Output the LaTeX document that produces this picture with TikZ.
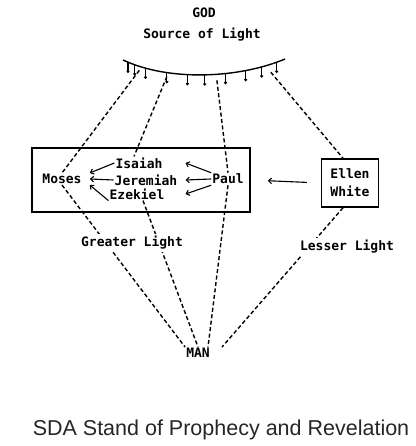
\documentclass[tikz,border=0pt]{standalone}
\usepackage{fontspec}
\setmainfont{Liberation Sans}
\setmonofont{DejaVu Sans Mono}
\usetikzlibrary{arrows.meta}

\begin{document}
\begin{tikzpicture}[x=1pt, y=-1pt, inner sep=1pt, font=\ttfamily\bfseries\fontsize{13}{15}\selectfont]

%STYLE SETTINGS
\tikzstyle{ray}=[line width=1.4pt, dash pattern=on 4pt off 2.5pt]
\tikzstyle{tip}=[line width=1.1pt, -{Straight Barb[length=3pt,width=5.5pt]}]
\tikzstyle{tick}=[line width=1.1pt, -{Straight Barb[length=1.5pt,width=2.5pt]}]
\tikzstyle{frame}=[draw, line width=1.5pt]
\tikzstyle{label}=[fill=white, inner sep=2pt]

\useasboundingbox (0,0) rectangle (415,446);

%SOURCE
\node (god) at (204,13) {GOD};
\node (source) at (202,35) {Source of Light};
\draw[line width=1.4pt] (123,60) .. controls (170,82) and (240,78) .. (285,59)
	coordinate[pos=0.035] (t1)
	coordinate[pos=0.08] (t2)
	coordinate[pos=0.15] (t3)
	coordinate[pos=0.28] (t4)
	coordinate[pos=0.4] (t5)
	coordinate[pos=0.5] (t6)
	coordinate[pos=0.62] (t7)
	coordinate[pos=0.74] (t8)
	coordinate[pos=0.84] (t9)
	coordinate[pos=0.94] (t10)
	coordinate[pos=0.11] (r1)
	coordinate[pos=0.28] (r2)
	coordinate[pos=0.57] (r3)
	coordinate[pos=0.9] (r4);
\foreach \n in {1,...,10}
	\draw[tick] (t\n) -- ++(0,11);

%PROPHETS
\node[frame, minimum width=218pt, minimum height=64pt] (prophets) at (141,180) {};
\node (moses) at (62,179) {Moses};
\node (isaiah) at (139,163) {Isaiah};
\node (jeremiah) at (146,180) {Jeremiah};
\node (ezekiel) at (137,194) {Ezekiel};
\node (paul) at (228,179) {Paul};
\node[frame, minimum width=57pt, minimum height=48pt, align=center,
	font=\ttfamily\bfseries\fontsize{13}{18}\selectfont] (ellen) at (350,183) {Ellen\\White};
\node (man) at (198,353) {MAN};

\coordinate (mj) at ([xshift=7pt]moses.east);
\coordinate (pj) at ([xshift=7pt]jeremiah.east);

%ARROWS
\draw[tip] (isaiah.west) -- (mj |- moses.north);
\draw[tip] (jeremiah.west) -- (mj);
\draw[tip] (ezekiel.south west) -- (mj |- moses.south);
\draw[tip] (paul.north west) -- (pj |- isaiah);
\draw[tip] (paul.west) -- (pj);
\draw[tip] (paul.south west) -- (pj |- ezekiel);
\draw[tip, shorten <=14pt, shorten >=17pt] (ellen.west) -- (prophets.east);

%RAYS
\draw[ray] ([yshift=-4pt]r1) -- (moses.north);
\draw[ray] (moses.south) -- (man.north west);
\draw[ray] ([yshift=-4pt]r2) -- ([xshift=-5pt]isaiah.north);
\draw[ray] ([xshift=6pt]ezekiel.south) -- (man.north);
\draw[ray] ([yshift=-6pt]r3) -- (paul.north);
\draw[ray] (paul.south) -- ([xshift=10pt]man.north);
\draw[ray] ([yshift=-8pt]r4) -- ([xshift=-7pt]ellen.north);
\draw[ray] ([xshift=-7pt]ellen.south) -- ([xshift=24pt]man.north);

%LABELS
\node[label] (greater) at (132,243) {Greater Light};
\node[label] (lesser) at (347,247) {Lesser Light};
\node[font=\rmfamily\fontsize{21.5}{24}\selectfont, text=black!85] (caption) at (221,430) {SDA Stand of Prophecy and Revelation};

\end{tikzpicture}
\end{document}
